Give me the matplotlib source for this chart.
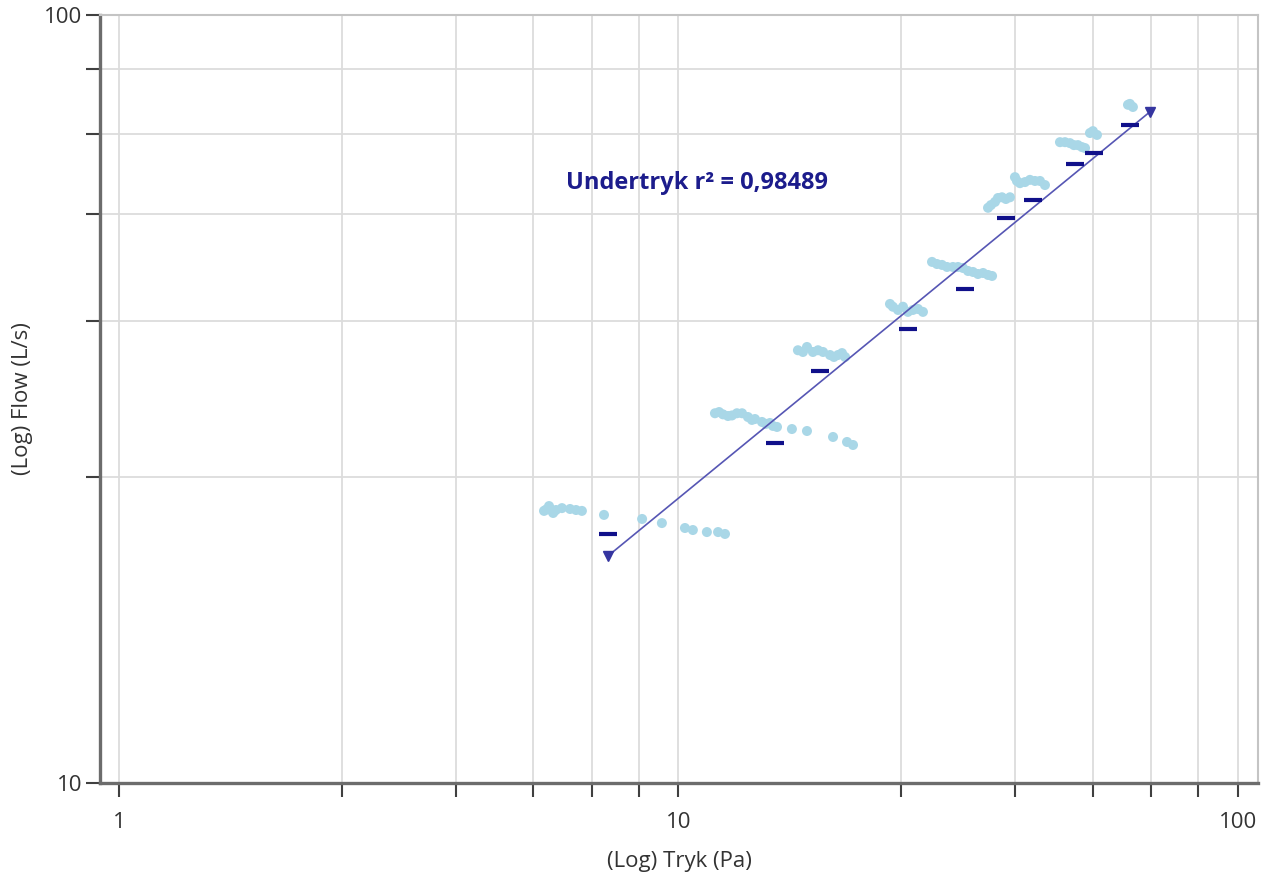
import matplotlib
matplotlib.use("Agg")
from matplotlib import pyplot as plt
from matplotlib.ticker import FixedLocator, NullFormatter
import numpy as np

# measured points (light blue), pressure in Pa and flow in L/s
tryk_raw = [5.75, 5.80, 5.87, 5.92, 5.97, 6.04, 6.19, 6.40, 6.56, 6.72, 7.36, 8.61, 9.34,
            10.27, 10.61, 11.24, 11.77, 12.11,
            11.62, 11.82, 12.01, 12.26, 12.46, 12.72, 12.99, 13.31, 13.53, 13.70, 14.10, 14.33,
            14.57, 14.75, 15.00, 15.95, 16.97, 18.89, 20.01, 20.51,
            16.35, 16.69, 16.97, 17.39, 17.76, 18.13, 18.66, 18.96, 19.28, 19.60, 19.85,
            23.88, 24.17, 24.68, 25.19, 25.71, 26.25, 26.80, 27.35,
            28.39, 28.97, 29.58, 30.20, 30.94, 31.60, 32.25, 32.92, 33.61, 34.30, 35.03, 35.75, 36.35,
            35.75, 36.18, 36.79, 37.24, 37.86, 38.48, 39.13,
            39.94, 40.27, 40.77, 41.63, 42.48, 43.37, 44.27, 45.19,
            48.07, 49.07, 50.09, 50.91, 51.76, 52.63, 53.29,
            54.39, 55.05, 55.98,
            63.6, 64.1, 64.9]
flow_raw = [22.61, 22.70, 22.94, 22.67, 22.47, 22.67, 22.80, 22.74, 22.67, 22.61, 22.34, 22.07, 21.80,
            21.48, 21.35, 21.22, 21.22, 21.10,
            30.30, 30.41, 30.20, 30.05, 30.10, 30.30, 30.30, 29.96, 29.70, 29.78, 29.52, 29.35,
            29.43, 29.17, 29.08, 28.90, 28.73, 28.22, 27.80, 27.55,
            36.60, 36.41, 36.96, 36.41, 36.60, 36.41, 36.08, 35.87, 36.08, 36.29, 35.87,
            42.05, 41.70, 41.30, 41.70, 41.06, 41.30, 41.42, 41.06,
            47.70, 47.40, 47.27, 46.98, 46.98, 46.98, 46.84, 46.42, 46.28, 46.00, 46.14, 45.87, 45.73,
            56.10, 56.56, 57.10, 57.77, 57.90, 57.60, 57.90,
            61.50, 60.80, 60.40, 60.60, 61.00, 60.80, 60.80, 60.06,
            68.30, 68.30, 68.10, 67.70, 67.70, 67.30, 67.10,
            70.20, 70.60, 69.80,
            76.40, 76.60, 75.90]

# averaged steps (dark blue dashes)
tryk_avg = [7.48, 14.88, 17.9, 25.7, 32.5, 38.5, 43.0, 51.1, 55.3, 64.1]
flow_avg = [21.1, 27.7, 34.4, 39.0, 44.0, 54.4, 57.4, 64.0, 66.1, 71.9]

# power law fit  flow = c * tryk^n
fit_start = 7.48
fit_end = 69.6
fit_flow_start = 19.75
fit_n = 0.597
fit_c = fit_flow_start / fit_start ** fit_n
r2_text = "Undertryk r\u00b2 = 0,98489"

x_minor = [2.5, 4, 5.5, 7, 8.5, 25, 40, 55, 70, 85]
y_minor = [25, 40, 55, 70, 85]

plt.rcParams['font.family'] = ['Open Sans', 'DejaVu Sans']

fig = plt.figure(figsize=(12.68, 8.75), dpi=100)
ax = fig.add_axes([100 / 1268, 92 / 875, 1158 / 1268, 768 / 875])

ax.set_xscale('log')
ax.set_yscale('log')
ax.set_xlim(0.9248, 108.6)
ax.set_ylim(10, 100)

ax.scatter(tryk_raw, flow_raw, s=52, marker='o', color='#a9d7e7', edgecolors='none', zorder=3)

fx = np.array([fit_start, fit_end])
ax.plot(fx, fit_c * fx ** fit_n, color='#5656b4', lw=1.2, zorder=4)
ax.plot(fx, fit_c * fx ** fit_n, ls='none', marker='v', ms=7, color='#3535a0', zorder=5)

ax.plot(tryk_avg, flow_avg, ls='none', marker='_', ms=13, mew=3, color='#10108a', zorder=6)

ax.text(6.29, 60.4, r2_text, ha='left', va='center', fontsize=17, fontweight='bold', color='#1c1c8c')

ax.xaxis.set_major_locator(FixedLocator([1, 10, 100]))
ax.xaxis.set_minor_locator(FixedLocator(x_minor))
ax.yaxis.set_major_locator(FixedLocator([10, 100]))
ax.yaxis.set_minor_locator(FixedLocator(y_minor))
ax.set_xticklabels(['1', '10', '100'])
ax.set_yticklabels(['10', '100'])
ax.xaxis.set_minor_formatter(NullFormatter())
ax.yaxis.set_minor_formatter(NullFormatter())

ax.grid(True, which='both', color='#dcdcdc', lw=1.3, zorder=0)
ax.set_axisbelow(True)

ax.tick_params(axis='both', which='both', direction='out', length=10, width=1.5, color='#404040',
               labelsize=16, labelcolor='#333333')
ax.tick_params(axis='x', which='both', pad=11)
ax.tick_params(axis='y', which='both', pad=3)

for side in ['left', 'bottom']:
    ax.spines[side].set_color('#6c6c6c')
    ax.spines[side].set_linewidth(2.4)
for side in ['top', 'right']:
    ax.spines[side].set_color('#c4c4c4')
    ax.spines[side].set_linewidth(1.5)

ax.set_xlabel('(Log) Tryk (Pa)', fontsize=16, color='#333333', labelpad=13)
ax.set_ylabel('(Log) Flow (L/s)', fontsize=16, color='#333333', labelpad=8)

fig.savefig('out.png', dpi=100)
